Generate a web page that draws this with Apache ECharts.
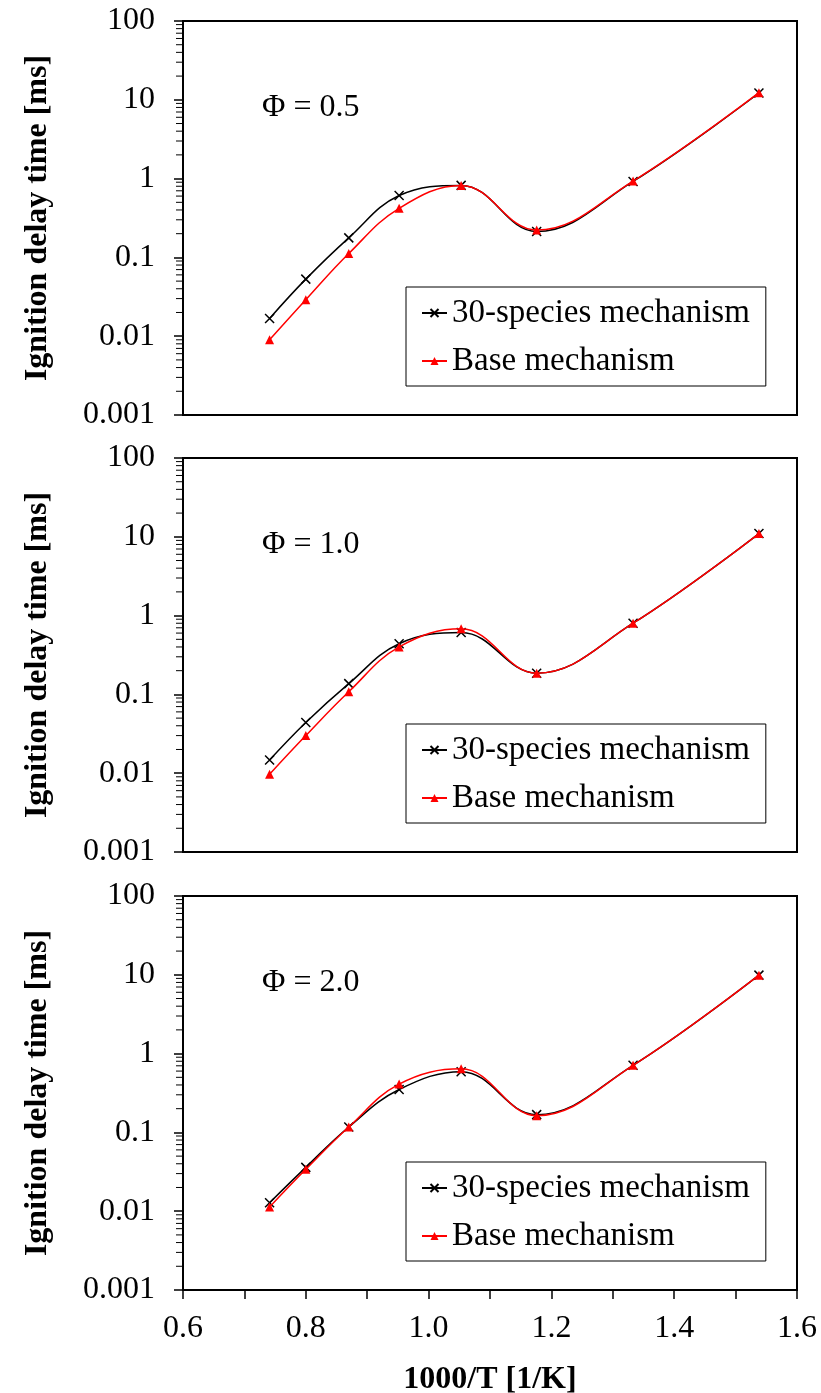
<!DOCTYPE html>
<html><head><meta charset="utf-8">
<script src="https://cdn.jsdelivr.net/npm/echarts@6/dist/echarts.min.js"></script>
<style>html,body{margin:0;padding:0;background:#fff}#c{width:821px;height:1393px}</style>
</head><body><div id="c"></div>
<script>
// 1000/T [1/K]
const xValues = [0.741, 0.800, 0.870, 0.952, 1.053, 1.176, 1.333, 1.538];
// Ignition delay time [ms]
const phi05_30sp  = [0.0168, 0.053, 0.177, 0.61, 0.82, 0.213, 0.92, 12.2];
const phi05_base  = [0.0090, 0.029, 0.112, 0.42, 0.82, 0.222, 0.93, 12.3];
const phi10_30sp  = [0.0147, 0.044, 0.137, 0.44, 0.61, 0.186, 0.80, 11.0];
const phi10_base  = [0.0097, 0.030, 0.108, 0.40, 0.68, 0.186, 0.80, 11.0];
const phi20_30sp  = [0.0128, 0.036, 0.117, 0.35, 0.59, 0.168, 0.71, 9.9];
const phi20_base  = [0.0113, 0.034, 0.117, 0.41, 0.64, 0.163, 0.71, 9.9];
const panelLabels = ['\u03A6 = 0.5', '\u03A6 = 1.0', '\u03A6 = 2.0'];
const seriesNames = ['30-species mechanism', 'Base mechanism'];
const yDecades = [0.001, 0.01, 0.1, 1, 10];
const minorMultipliers = [2, 3, 4, 5, 6, 7, 8, 9];
const xTickLabels = ['0.6', '0.8', '1.0', '1.2', '1.4', '1.6'];

const panels = [[phi05_30sp, phi05_base], [phi10_30sp, phi10_base], [phi20_30sp, phi20_base]];
const FONT = "'Liberation Serif','Times New Roman',serif";
const tops = [21, 458, 896];
const H = 394;
const minorVals = [];
yDecades.forEach(d => minorMultipliers.forEach(m => minorVals.push(d * m)));

const grids = [], xAxes = [], yAxes = [], series = [], legends = [], graphics = [];
panels.forEach((p, i) => {
  const last = i === panels.length - 1;
  grids.push({left: 183, right: 24, top: tops[i], height: H, show: true, borderColor: '#000', borderWidth: 2,
    backgroundColor: 'transparent', containLabel: false, outerBoundsMode: 'none'});
  xAxes.push({
    type: 'value', gridIndex: i, min: 0.6, max: 1.6, interval: 0.1,
    axisLine: {show: true, lineStyle: {color: '#000', width: 2}},
    axisTick: {show: last, inside: false, length: 9, lineStyle: {color: '#000', width: 1.5}},
    axisLabel: {show: last, margin: 23, fontFamily: FONT, fontSize: 32, color: '#000',
      formatter: v => { const s = v.toFixed(1); return xTickLabels.indexOf(s) >= 0 ? s : ''; }},
    splitLine: {show: false},
    name: last ? '1000/T [1/K]' : '', nameLocation: 'middle', nameGap: 74,
    nameTextStyle: {fontFamily: FONT, fontSize: 32, fontWeight: 'bold', color: '#000'}
  });
  yAxes.push({
    type: 'log', logBase: 10, gridIndex: i, min: 0.001, max: 100,
    axisLine: {show: true, lineStyle: {color: '#000', width: 2}},
    axisTick: {show: true, inside: false, length: 9, lineStyle: {color: '#000', width: 1.5}},
    axisLabel: {margin: 28, fontFamily: FONT, fontSize: 32, color: '#000',
      formatter: v => v >= 1 ? String(Math.round(v)) : String(Number(v.toPrecision(1)))},
    splitLine: {show: false},
    name: 'Ignition delay time [ms]', nameLocation: 'middle', nameGap: 129,
    nameTextStyle: {fontFamily: FONT, fontSize: 32, fontWeight: 'bold', color: '#000'}
  });
  series.push({
    type: 'custom', xAxisIndex: i, yAxisIndex: i, silent: true, clip: false, z: 1,
    data: minorVals.map(v => [0.6, v]),
    renderItem: (params, api) => {
      const pt = api.coord([api.value(0), api.value(1)]);
      return {type: 'line', shape: {x1: pt[0] - 7, y1: pt[1], x2: pt[0], y2: pt[1]}, style: {stroke: '#000', lineWidth: 1}};
    }
  });
  series.push({
    name: seriesNames[0], type: 'line', xAxisIndex: i, yAxisIndex: i, smooth: 0.4,
    data: xValues.map((x, k) => [x, p[0][k]]),
    symbol: 'path://M0,0L10,10M10,0L0,10', symbolSize: 9,
    lineStyle: {color: '#000', width: 1.5}, itemStyle: {color: '#000', borderColor: '#000', borderWidth: 1.5}, z: 3
  });
  series.push({
    name: seriesNames[1], type: 'line', xAxisIndex: i, yAxisIndex: i, smooth: 0.4,
    data: xValues.map((x, k) => [x, p[1][k]]),
    symbol: 'triangle', symbolSize: 9,
    lineStyle: {color: '#ff0000', width: 1.5}, itemStyle: {color: '#ff0000'}, z: 4
  });
  legends.push({
    data: seriesNames, orient: 'vertical', left: 406, top: tops[i] + 266,
    itemWidth: 25, itemHeight: 10, itemGap: 12, itemTextGap: 0,
    padding: [8, 16, 7, 15], borderColor: '#000', borderWidth: 1, backgroundColor: '#fff',
    textStyle: {fontFamily: FONT, fontSize: 33, color: '#000', lineHeight: 36},
    selectedMode: false
  });
  graphics.push({
    type: 'text', left: 262, top: tops[i] + 71,
    style: {text: panelLabels[i], font: '32px ' + FONT, fill: '#000'}
  });
});

const chart = echarts.init(document.getElementById('c'), null, {renderer: 'canvas'});
chart.setOption({
  animation: false, backgroundColor: '#fff',
  grid: grids, xAxis: xAxes, yAxis: yAxes, series: series, legend: legends, graphic: graphics
});
</script></body></html>
